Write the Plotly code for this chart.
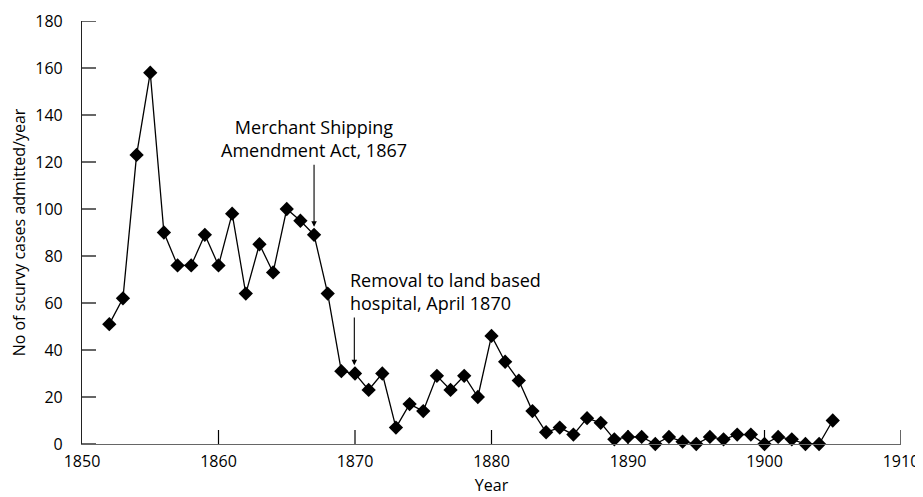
import plotly.graph_objects as go

years = list(range(1852, 1906))
cases = [51, 62, 123, 158, 90, 76, 76, 89, 76, 98, 64, 85, 73, 100, 95, 89, 64, 31, 30, 23, 30, 7, 17, 14,
         29, 23, 29, 20, 46, 35, 27, 14, 5, 7, 4, 11, 9, 2, 3, 3, 0, 3, 1, 0, 3, 2, 4, 4, 0, 3, 2, 0, 0, 10]

x_ticks = [1850, 1860, 1870, 1880, 1890, 1900, 1910]
y_ticks = [0, 20, 40, 60, 80, 100, 120, 140, 160, 180]

ann_text = ["Merchant Shipping<br>Amendment Act, 1867", "Removal to land based<br>hospital, April 1870"]
ann_x = [1867, 1870]
ann_y = [89, 30]

FONT = "'Open Sans', sans-serif"

fig = go.Figure()
fig.add_trace(go.Scatter(
    x=years, y=cases, mode="lines+markers",
    line=dict(color="black", width=1.3),
    marker=dict(symbol="diamond", size=11, color="black"),
    cliponaxis=False, showlegend=False,
))

# Inside tick marks drawn as pixel-sized shapes anchored at the tick values
for tv in x_ticks[1:]:
    fig.add_shape(type="line", xref="x", yref="y", x0=tv, x1=tv,
                  ysizemode="pixel", yanchor=y_ticks[0], y0=0, y1=14,
                  line=dict(color="black", width=1.2), layer="above")
for tv in y_ticks:
    fig.add_shape(type="line", xref="x", yref="y", y0=tv, y1=tv,
                  xsizemode="pixel", xanchor=x_ticks[0], x0=0, x1=14,
                  line=dict(color="black", width=1.2), layer="above")

# Annotation 1: centered text above, arrow down to point
fig.add_annotation(x=ann_x[0], y=ann_y[0] + 3.5, xref="x", yref="y",
                   ax=ann_x[0], ay=119.5, axref="x", ayref="y",
                   showarrow=True, arrowhead=2, arrowsize=1, arrowwidth=1.1, arrowcolor="black",
                   text="")
fig.add_annotation(x=ann_x[0], y=130.2, xref="x", yref="y", text=ann_text[0],
                   showarrow=False, xanchor="center", yanchor="middle",
                   font=dict(family=FONT, size=18, color="black"), align="center")

# Annotation 2
fig.add_annotation(x=ann_x[1] - 0.05, y=ann_y[1] + 3.5, xref="x", yref="y",
                   ax=ann_x[1] - 0.05, ay=54.5, axref="x", ayref="y",
                   showarrow=True, arrowhead=2, arrowsize=1, arrowwidth=1.1, arrowcolor="black",
                   text="")
fig.add_annotation(x=1869.5, y=64.7, xref="x", yref="y", text=ann_text[1],
                   showarrow=False, xanchor="left", yanchor="middle",
                   font=dict(family=FONT, size=18, color="black"), align="left")

fig.update_layout(
    width=915, height=489,
    margin=dict(l=74, r=22, t=13, b=53),
    paper_bgcolor="white", plot_bgcolor="white",
    font=dict(family=FONT, size=16, color="black"),
    xaxis=dict(range=[1850, 1910], tickmode="array", tickvals=x_ticks, ticks="",
               showgrid=False, zeroline=False, showline=True,
               linecolor="#666", linewidth=1.2, automargin=False,
               ticklabelstandoff=3,
               title=dict(text="Year", standoff=8, font=dict(size=16)),
               tickfont=dict(size=16)),
    yaxis=dict(range=[0, 180], tickmode="array", tickvals=y_ticks, ticks="",
               showgrid=False, zeroline=False, showline=True,
               linecolor="#222", linewidth=1.2, automargin=False,
               ticklabelstandoff=15,
               title=dict(text="No of scurvy cases admitted/year", standoff=12, font=dict(size=16)),
               tickfont=dict(size=16)),
)

fig.write_html("out.html")
